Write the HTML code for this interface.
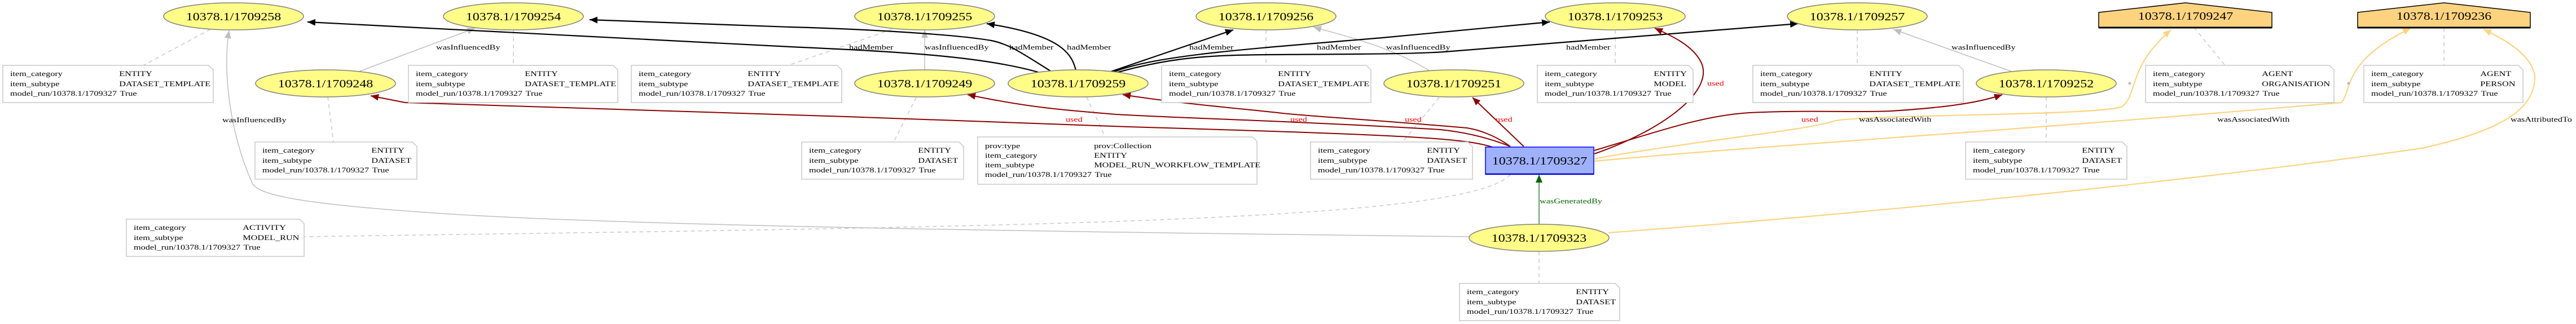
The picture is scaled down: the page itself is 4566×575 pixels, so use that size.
<!DOCTYPE html>
<html><head><meta charset="utf-8"><style>
html,body{margin:0;padding:0;background:#fff;}
svg{display:block;}
text{font-family:"Liberation Serif",serif;}
.n{font-size:20px;fill:#000;}
.t{font-size:13px;fill:#000;}
.nt rect,.nt path{fill:#fff;stroke:#c8c8c8;stroke-width:1.5;}
.el{fill:#fffc87;stroke:#808080;stroke-width:1.5;}
.dl{fill:none;stroke:#c8c8c8;stroke-width:1.5;stroke-dasharray:7,6;}
.gi{fill:none;stroke:#bebebe;stroke-width:1.5;}
.bk{fill:none;stroke:#000;stroke-width:2.2;}
.rd{fill:none;stroke:#8b0000;stroke-width:2;}
.or{fill:none;stroke:#fed37f;stroke-width:2.2;}
</style></head><body>
<svg width="4566" height="575" viewBox="0 0 4566 575" xmlns="http://www.w3.org/2000/svg">
<defs>
<marker id="ab" markerUnits="userSpaceOnUse" markerWidth="16" markerHeight="12" refX="14" refY="6" orient="auto"><path d="M0,0 L14,6 L0,12 z" fill="#000"/></marker>
<marker id="ag" markerUnits="userSpaceOnUse" markerWidth="16" markerHeight="12" refX="14" refY="6" orient="auto"><path d="M0,0 L14,6 L0,12 z" fill="#bebebe"/></marker>
<marker id="ar" markerUnits="userSpaceOnUse" markerWidth="16" markerHeight="12" refX="14" refY="6" orient="auto"><path d="M0,0 L14,6 L0,12 z" fill="#8b0000"/></marker>
<marker id="ao" markerUnits="userSpaceOnUse" markerWidth="16" markerHeight="12" refX="14" refY="6" orient="auto"><path d="M0,0 L14,6 L0,12 z" fill="#fed37f"/></marker>
<marker id="agr" markerUnits="userSpaceOnUse" markerWidth="16" markerHeight="12" refX="14" refY="6" orient="auto"><path d="M0,0 L14,6 L0,12 z" fill="#006400"/></marker>
</defs>

<path class="dl" d="M373,52 L254,116"/>
<path class="dl" d="M910,53 L910,116"/>
<path class="dl" d="M1581,52 L1397,116"/>
<path class="dl" d="M2244,53 L2244,116"/>
<path class="dl" d="M2863,53 L2863,116"/>
<path class="dl" d="M3292,53 L3292,116"/>
<path class="dl" d="M3889,49 L3944,116"/>
<path class="dl" d="M4332,49 L4332,116"/>
<path class="dl" d="M581,172 L591,252"/>
<path class="dl" d="M1624,173 L1584,252"/>
<path class="dl" d="M1926,172 L1959,243"/>
<path class="dl" d="M2551,173 L2486,252"/>
<path class="dl" d="M3627,172 L3627,252"/>
<path class="dl" d="M2728,446 L2728,503"/>
<path class="dl" d="M2677,310 C2600,395 1800,402 539,420"/>

<path class="gi" marker-end="url(#ag)" d="M2605,420 C2200,415 1200,405 800,380 C520,362 458,345 447,325 C405,230 395,120 406,54"/>
<path class="gi" marker-end="url(#ag)" d="M636,127 L842,50"/>
<path class="gi" marker-end="url(#ag)" d="M1639,124 L1639,53"/>
<path class="gi" marker-end="url(#ag)" d="M2533,125 C2460,80 2370,60 2328,48"/>
<path class="gi" marker-end="url(#ag)" d="M3566,127 L3356,52"/>

<path class="bk" marker-end="url(#ab)" d="M1840,128 C1740,100 1600,92 1400,83 L545,39"/>
<path class="bk" marker-end="url(#ab)" d="M1862,126 C1820,100 1790,78 1757,72 C1700,62 1550,52 1400,48 L1045,35"/>
<path class="bk" marker-end="url(#ab)" d="M1907,125 C1900,95 1880,62 1749,42"/>
<path class="bk" marker-end="url(#ab)" d="M1969,127 L2186,53"/>
<path class="bk" marker-end="url(#ab)" d="M1973,128 C2050,98 2200,88 2450,67 L2747,39"/>
<path class="bk" marker-end="url(#ab)" d="M1975,130 C2080,100 2150,98 2250,97 C2400,96 2500,96 2560,92 L3187,42"/>

<path class="rd" marker-end="url(#ar)" d="M2648,262 C2600,245 2500,240 2000,225 L1500,207 L718,182 L657,170"/>
<path class="rd" marker-end="url(#ar)" d="M2677,260 C2640,245 2600,235 2553,230 C2300,215 2100,210 1978,203 C1880,195 1820,190 1715,168"/>
<path class="rd" marker-end="url(#ar)" d="M2677,260 C2650,240 2620,230 2600,227 C2400,210 2300,205 2265,200 C2150,188 2080,182 1990,168"/>
<path class="rd" marker-end="url(#ar)" d="M2701,260 L2610,173"/>
<path class="rd" marker-end="url(#ar)" d="M2826,273 C2950,230 3040,160 3015,110 C3000,80 2960,62 2933,50"/>
<path class="rd" marker-end="url(#ar)" d="M2826,267 C2950,230 3020,205 3101,200 C3200,195 3300,200 3352,197 C3430,192 3500,185 3549,168"/>

<path class="or" marker-end="url(#ao)" d="M2826,282 C3000,250 3200,232 3250,215 C3290,203 3700,206 3760,190 C3790,170 3770,120 3848,53"/>
<path class="or" marker-end="url(#ao)" d="M2826,286 C3100,260 3600,230 4150,182 C4170,160 4150,110 4273,50"/>
<path class="or" marker-end="url(#ao)" d="M2851,413 C3300,380 3900,320 4293,263 C4420,235 4490,200 4493,140 C4493,100 4440,70 4402,52"/>
<circle cx="3775" cy="148" r="2.5" fill="#bbb"/>
<circle cx="4163" cy="148" r="2.5" fill="#bbb"/>

<path fill="none" stroke="#006400" stroke-width="1.2" marker-end="url(#agr)" d="M2728,398 L2728,310"/>

<g class="t">
<text transform="translate(394,217) scale(1.25,1)">wasInfluencedBy</text>
<text transform="translate(773,88) scale(1.25,1)">wasInfluencedBy</text>
<text transform="translate(1639,88) scale(1.25,1)">wasInfluencedBy</text>
<text transform="translate(2457,88) scale(1.25,1)">wasInfluencedBy</text>
<text transform="translate(3459,88) scale(1.25,1)">wasInfluencedBy</text>
<text transform="translate(1505,88) scale(1.25,1)">hadMember</text>
<text transform="translate(1789,88) scale(1.25,1)">hadMember</text>
<text transform="translate(1891,88) scale(1.25,1)">hadMember</text>
<text transform="translate(2108,88) scale(1.25,1)">hadMember</text>
<text transform="translate(2334,88) scale(1.25,1)">hadMember</text>
<text transform="translate(2776,88) scale(1.25,1)">hadMember</text>
<text transform="translate(3295,216) scale(1.25,1)">wasAssociatedWith</text>
<text transform="translate(3930,216) scale(1.25,1)">wasAssociatedWith</text>
<text transform="translate(4450,216) scale(1.25,1)">wasAttributedTo</text>
</g>
<g class="t">
<text transform="translate(1889,216) scale(1.25,1)" style="fill:#f00">used</text>
<text transform="translate(2287,216) scale(1.25,1)" style="fill:#f00">used</text>
<text transform="translate(2490,216) scale(1.25,1)" style="fill:#f00">used</text>
<text transform="translate(2651,216) scale(1.25,1)" style="fill:#f00">used</text>
<text transform="translate(3026,152) scale(1.25,1)" style="fill:#f00">used</text>
<text transform="translate(3193,216) scale(1.25,1)" style="fill:#f00">used</text>
</g>
<text class="t" transform="translate(2729,361) scale(1.25,1)" style="fill:#006400">wasGeneratedBy</text>

<g>
<ellipse class="el" cx="414" cy="29" rx="124" ry="24"/><text class="n" text-anchor="middle" transform="translate(414,36) scale(1.2,1)">10378.1/1709258</text>
<ellipse class="el" cx="910" cy="29" rx="124" ry="24"/><text class="n" text-anchor="middle" transform="translate(910,36) scale(1.2,1)">10378.1/1709254</text>
<ellipse class="el" cx="1639" cy="29" rx="124" ry="24"/><text class="n" text-anchor="middle" transform="translate(1639,36) scale(1.2,1)">10378.1/1709255</text>
<ellipse class="el" cx="2244" cy="29" rx="124" ry="24"/><text class="n" text-anchor="middle" transform="translate(2244,36) scale(1.2,1)">10378.1/1709256</text>
<ellipse class="el" cx="2863" cy="29" rx="124" ry="24"/><text class="n" text-anchor="middle" transform="translate(2863,36) scale(1.2,1)">10378.1/1709253</text>
<ellipse class="el" cx="3292" cy="29" rx="124" ry="24"/><text class="n" text-anchor="middle" transform="translate(3292,36) scale(1.2,1)">10378.1/1709257</text>
<ellipse class="el" cx="577" cy="148" rx="124" ry="24"/><text class="n" text-anchor="middle" transform="translate(577,155) scale(1.2,1)">10378.1/1709248</text>
<ellipse class="el" cx="1639" cy="148" rx="124" ry="24"/><text class="n" text-anchor="middle" transform="translate(1639,155) scale(1.2,1)">10378.1/1709249</text>
<ellipse class="el" cx="1911" cy="148" rx="124" ry="24"/><text class="n" text-anchor="middle" transform="translate(1911,155) scale(1.2,1)">10378.1/1709259</text>
<ellipse class="el" cx="2577" cy="148" rx="124" ry="24"/><text class="n" text-anchor="middle" transform="translate(2577,155) scale(1.2,1)">10378.1/1709251</text>
<ellipse class="el" cx="3627" cy="148" rx="124" ry="24"/><text class="n" text-anchor="middle" transform="translate(3627,155) scale(1.2,1)">10378.1/1709252</text>
<ellipse class="el" cx="2728" cy="422" rx="124" ry="24"/><text class="n" text-anchor="middle" transform="translate(2728,429) scale(1.2,1)">10378.1/1709323</text>
</g>

<rect x="2633" y="261" width="192" height="48" fill="#9fb1fc" stroke="#0000ff" stroke-width="1.5"/>
<line x1="2633" y1="309" x2="2825" y2="309" stroke="#0000cc" stroke-width="2.5"/>
<text class="n" text-anchor="middle" transform="translate(2729,292) scale(1.2,1)">10378.1/1709327</text>

<polygon points="3720,22 3874,5 4027,22 4027,49 3720,49" fill="#fed37f" stroke="#000" stroke-width="1.5"/>
<line x1="3720" y1="49" x2="4027" y2="49" stroke="#000" stroke-width="3"/>
<text class="n" text-anchor="middle" transform="translate(3874,35) scale(1.2,1)">10378.1/1709247</text>
<polygon points="4179,22 4332,5 4485,22 4485,49 4179,49" fill="#fed37f" stroke="#000" stroke-width="1.5"/>
<line x1="4179" y1="49" x2="4485" y2="49" stroke="#000" stroke-width="3"/>
<text class="n" text-anchor="middle" transform="translate(4332,35) scale(1.2,1)">10378.1/1709236</text>

<g class="nt">
<path d="M5,116 H370 L378,124 V182 H5 Z"/>
<path d="M724,116 H1087 L1095,124 V182 H724 Z"/>
<path d="M1119,116 H1484 L1492,124 V182 H1119 Z"/>
<path d="M2059,116 H2422 L2430,124 V182 H2059 Z"/>
<path d="M2725,116 H2993 L3001,124 V182 H2725 Z"/>
<path d="M3107,116 H3472 L3480,124 V182 H3107 Z"/>
<path d="M3803,116 H4129 L4137,124 V182 H3803 Z"/>
<path d="M4190,116 H4464 L4472,124 V182 H4190 Z"/>
<path d="M452,252 H731 L739,260 V318 H452 Z"/>
<path d="M1421,252 H1700 L1708,260 V318 H1421 Z"/>
<path d="M1733,243 H2220 L2228,251 V327 H1733 Z"/>
<path d="M2323,252 H2602 L2610,260 V318 H2323 Z"/>
<path d="M3484,252 H3762 L3770,260 V318 H3484 Z"/>
<path d="M224,389 H531 L539,397 V455 H224 Z"/>
<path d="M2587,503 H2863 L2871,511 V569 H2587 Z"/>
</g>

<g class="t">
<g transform="translate(5,116) scale(1.25,1)"><text x="10.4" y="19">item_category</text><text x="165" y="19">ENTITY</text><text x="10.4" y="37">item_subtype</text><text x="165" y="37">DATASET_TEMPLATE</text><text x="10.4" y="54">model_run/10378.1/1709327</text><text x="166" y="54">True</text></g>
<g transform="translate(724,116) scale(1.25,1)"><text x="10.4" y="19">item_category</text><text x="165" y="19">ENTITY</text><text x="10.4" y="37">item_subtype</text><text x="165" y="37">DATASET_TEMPLATE</text><text x="10.4" y="54">model_run/10378.1/1709327</text><text x="166" y="54">True</text></g>
<g transform="translate(1119,116) scale(1.25,1)"><text x="10.4" y="19">item_category</text><text x="165" y="19">ENTITY</text><text x="10.4" y="37">item_subtype</text><text x="165" y="37">DATASET_TEMPLATE</text><text x="10.4" y="54">model_run/10378.1/1709327</text><text x="166" y="54">True</text></g>
<g transform="translate(2059,116) scale(1.25,1)"><text x="10.4" y="19">item_category</text><text x="165" y="19">ENTITY</text><text x="10.4" y="37">item_subtype</text><text x="165" y="37">DATASET_TEMPLATE</text><text x="10.4" y="54">model_run/10378.1/1709327</text><text x="166" y="54">True</text></g>
<g transform="translate(2725,116) scale(1.25,1)"><text x="10.4" y="19">item_category</text><text x="165" y="19">ENTITY</text><text x="10.4" y="37">item_subtype</text><text x="165" y="37">MODEL</text><text x="10.4" y="54">model_run/10378.1/1709327</text><text x="166" y="54">True</text></g>
<g transform="translate(3107,116) scale(1.25,1)"><text x="10.4" y="19">item_category</text><text x="165" y="19">ENTITY</text><text x="10.4" y="37">item_subtype</text><text x="165" y="37">DATASET_TEMPLATE</text><text x="10.4" y="54">model_run/10378.1/1709327</text><text x="166" y="54">True</text></g>
<g transform="translate(3803,116) scale(1.25,1)"><text x="10.4" y="19">item_category</text><text x="165" y="19">AGENT</text><text x="10.4" y="37">item_subtype</text><text x="165" y="37">ORGANISATION</text><text x="10.4" y="54">model_run/10378.1/1709327</text><text x="166" y="54">True</text></g>
<g transform="translate(4190,116) scale(1.25,1)"><text x="10.4" y="19">item_category</text><text x="165" y="19">AGENT</text><text x="10.4" y="37">item_subtype</text><text x="165" y="37">PERSON</text><text x="10.4" y="54">model_run/10378.1/1709327</text><text x="166" y="54">True</text></g>
<g transform="translate(452,252) scale(1.25,1)"><text x="10.4" y="19">item_category</text><text x="165" y="19">ENTITY</text><text x="10.4" y="37">item_subtype</text><text x="165" y="37">DATASET</text><text x="10.4" y="54">model_run/10378.1/1709327</text><text x="166" y="54">True</text></g>
<g transform="translate(1421,252) scale(1.25,1)"><text x="10.4" y="19">item_category</text><text x="165" y="19">ENTITY</text><text x="10.4" y="37">item_subtype</text><text x="165" y="37">DATASET</text><text x="10.4" y="54">model_run/10378.1/1709327</text><text x="166" y="54">True</text></g>
<g transform="translate(1733,243) scale(1.25,1)"><text x="10.4" y="20">prov:type</text><text x="165" y="20">prov:Collection</text><text x="10.4" y="37">item_category</text><text x="165" y="37">ENTITY</text><text x="10.4" y="54">item_subtype</text><text x="165" y="54">MODEL_RUN_WORKFLOW_TEMPLATE</text><text x="10.4" y="71">model_run/10378.1/1709327</text><text x="166" y="71">True</text></g>
<g transform="translate(2323,252) scale(1.25,1)"><text x="10.4" y="19">item_category</text><text x="165" y="19">ENTITY</text><text x="10.4" y="37">item_subtype</text><text x="165" y="37">DATASET</text><text x="10.4" y="54">model_run/10378.1/1709327</text><text x="166" y="54">True</text></g>
<g transform="translate(3484,252) scale(1.25,1)"><text x="10.4" y="19">item_category</text><text x="165" y="19">ENTITY</text><text x="10.4" y="37">item_subtype</text><text x="165" y="37">DATASET</text><text x="10.4" y="54">model_run/10378.1/1709327</text><text x="166" y="54">True</text></g>
<g transform="translate(224,389) scale(1.25,1)"><text x="10.4" y="19">item_category</text><text x="165" y="19">ACTIVITY</text><text x="10.4" y="37">item_subtype</text><text x="165" y="37">MODEL_RUN</text><text x="10.4" y="54">model_run/10378.1/1709327</text><text x="166" y="54">True</text></g>
<g transform="translate(2587,503) scale(1.25,1)"><text x="10.4" y="19">item_category</text><text x="165" y="19">ENTITY</text><text x="10.4" y="37">item_subtype</text><text x="165" y="37">DATASET</text><text x="10.4" y="54">model_run/10378.1/1709327</text><text x="166" y="54">True</text></g>
</g>
</svg>
</body></html>
